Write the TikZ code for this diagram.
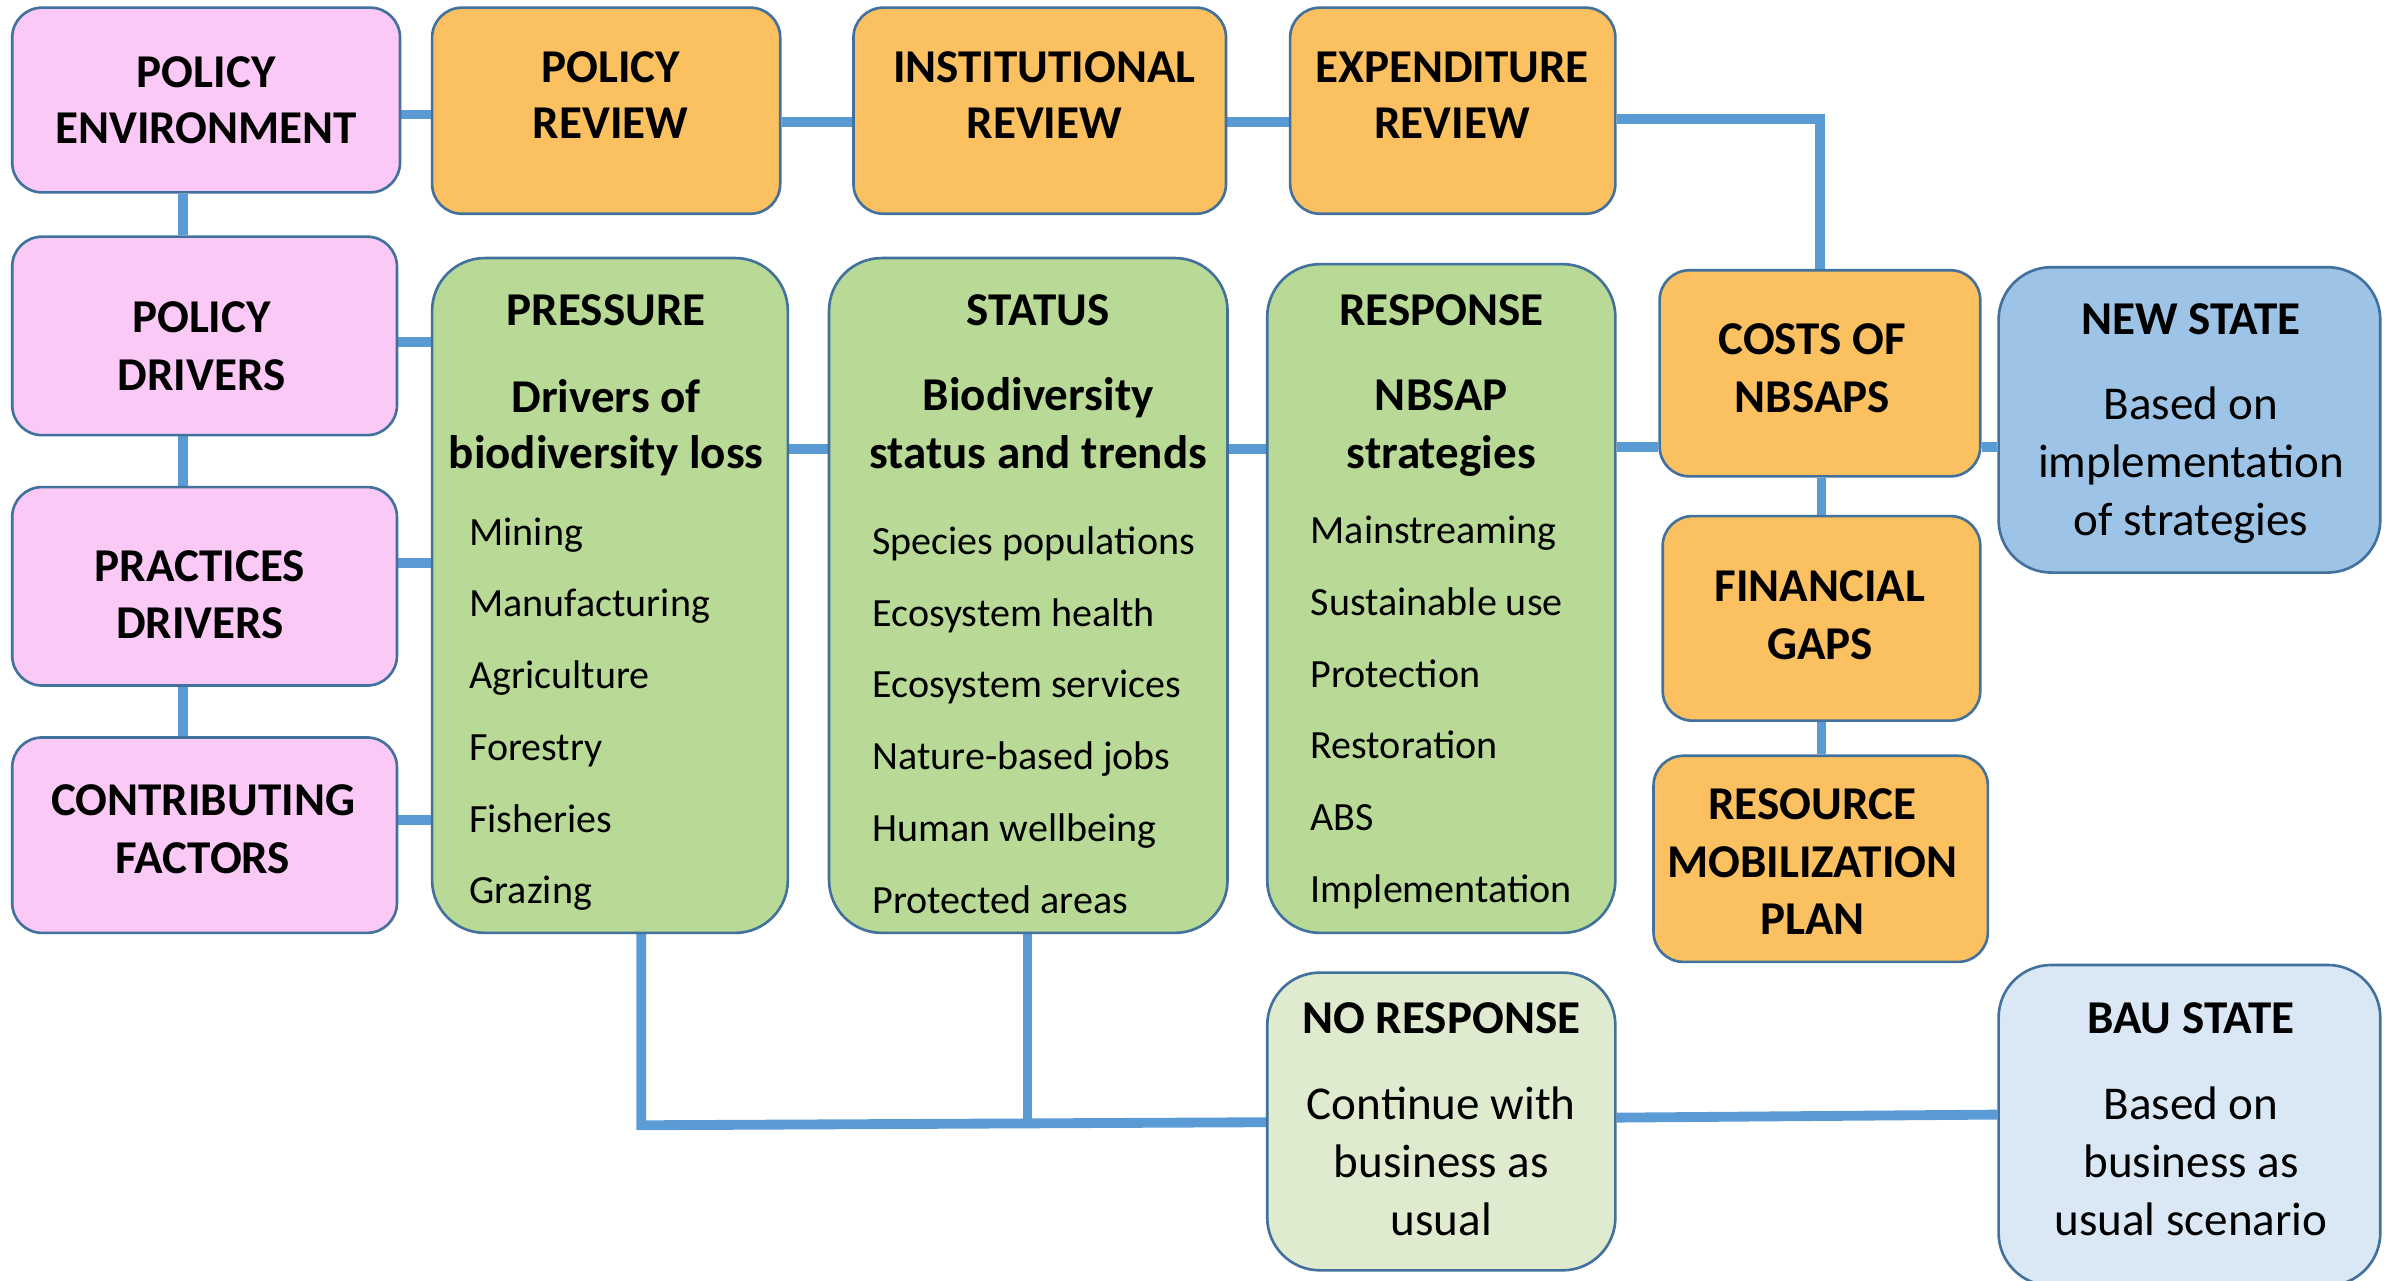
\documentclass[tikz,border=0pt]{standalone}
\usepackage{fontspec}
\setmainfont{Carlito}
\usetikzlibrary{positioning}
\usetikzlibrary{backgrounds}
\newdimen\pxu \pxu=0.01527cm
\definecolor{edgeblue}{HTML}{41719C}
\definecolor{linkblue}{HTML}{5B9BD5}
\definecolor{pinkfill}{HTML}{FBC9F5}
\definecolor{orangefill}{HTML}{FBC060}
\definecolor{greenfill}{HTML}{B8DA96}
\definecolor{bluefill}{HTML}{9DC3E6}
\definecolor{paleblue}{HTML}{DAE8F5}
\definecolor{palegreen}{HTML}{DEEBCF}

\begin{document}
\begin{tikzpicture}[x=0.01527cm, y=-0.01527cm]
    \tikzset{box/.style 2 args={draw=edgeblue, line width=0.75pt, rounded corners=8.5pt,
                inner sep=0pt, minimum width=#1\pxu, minimum height=#2\pxu},
            round/.style={rounded corners=15pt},
            head/.style={anchor=base, inner sep=0pt, font=\fontsize{13.4}{16}\selectfont\bfseries},
            body/.style={anchor=base, inner sep=0pt, font=\fontsize{13.4}{16}\selectfont},
            item/.style={anchor=base west, inner sep=0pt, font=\fontsize{11.4}{14}\selectfont},
            link/.style={draw=linkblue, line width=2.8pt}}
    \useasboundingbox (0,0) rectangle (1568,839);

    % left column
    \node[box={254}{121}, fill=pinkfill] (pe) at (135,65.5) {};
    \node[box={252}{130}, fill=pinkfill] (pd) at (134,220) {};
    \node[box={252}{130}, fill=pinkfill] (pa) at (134,384) {};
    \node[box={252}{128}, fill=pinkfill] (cf) at (134,547) {};
    \node[head] (pe-1) at (135,57) {POLICY};
    \node[head] (pe-2) at (135,94) {ENVIRONMENT};
    \node[head] (pd-1) at (132,218) {POLICY};
    \node[head] (pd-2) at (132,256) {DRIVERS};
    \node[head] (pa-1) at (131,381) {PRACTICES};
    \node[head] (pa-2) at (131,418) {DRIVERS};
    \node[head] (cf-1) at (133,534) {CONTRIBUTING};
    \node[head] (cf-2) at (133,572) {FACTORS};

    % reviews
    \node[box={228}{135}, fill=orangefill] (prv) at (397,72.5) {};
    \node[box={244}{135}, fill=orangefill] (irv) at (681,72.5) {};
    \node[box={213}{135}, fill=orangefill] (erv) at (951.5,72.5) {};
    \node[head] (prv-1) at (400,54) {POLICY};
    \node[head] (prv-2) at (400,91) {REVIEW};
    \node[head] (irv-1) at (684,54) {INSTITUTIONAL};
    \node[head] (irv-2) at (684,91) {REVIEW};
    \node[head] (erv-1) at (951,54) {EXPENDITURE};
    \node[head] (erv-2) at (951,91) {REVIEW};

    % pressure, status, response
    \node[box={233}{442}, round, fill=greenfill] (pres) at (399.5,390) {};
    \node[box={261}{442}, round, fill=greenfill] (stat) at (673.5,390) {};
    \node[box={228}{438}, round, fill=greenfill] (resp) at (944,392) {};
    \node[head] (pres-1) at (397,213) {PRESSURE};
    \node[head] (pres-2) at (397,270) {Drivers of};
    \node[head] (pres-3) at (397,307) {biodiversity loss};
    \node[head] (stat-1) at (680,213) {STATUS};
    \node[head] (stat-2) at (680,269) {Biodiversity};
    \node[head] (stat-3) at (680,307) {status and trends};
    \node[head] (resp-1) at (944,213) {RESPONSE};
    \node[head] (resp-2) at (944,269) {NBSAP};
    \node[head] (resp-3) at (944,307) {strategies};
    \foreach \t [count=\i from 0] in {Mining, Manufacturing, Agriculture, Forestry, Fisheries, Grazing}
        \node[item] (pres-i\i) at (307, 357+47*\i) {\t};
    \foreach \t [count=\i from 0] in {Species populations, Ecosystem health, Ecosystem services,
            Nature-based jobs, Human wellbeing, Protected areas}
        \node[item] (stat-i\i) at (571, 363+47*\i) {\t};
    \foreach \t [count=\i from 0] in {Mainstreaming, Sustainable use, Protection, Restoration, ABS, Implementation}
        \node[item] (resp-i\i) at (858, 356+47*\i) {\t};

    % costs and financing
    \node[box={210}{135}, fill=orangefill] (cost) at (1192,244.5) {};
    \node[box={208}{134}, fill=orangefill] (gap) at (1193,405) {};
    \node[box={219}{135}, fill=orangefill] (rmp) at (1192.5,562.5) {};
    \node[head] (cost-1) at (1187,232) {COSTS OF};
    \node[head] (cost-2) at (1187,270) {NBSAPS};
    \node[head] (gap-1) at (1192,394) {FINANCIAL};
    \node[head] (gap-2) at (1192,432) {GAPS};
    \node[head] (rmp-1) at (1187,537) {RESOURCE};
    \node[head] (rmp-2) at (1187,575) {MOBILIZATION};
    \node[head] (rmp-3) at (1187,612) {PLAN};

    % outcomes
    \node[box={250}{200}, round, fill=bluefill] (new) at (1434,275) {};
    \node[box={228}{195}, round, fill=palegreen] (nor) at (944,734.5) {};
    \node[box={250}{210}, round, fill=paleblue] (bau) at (1434,737) {};
    \node[head] (new-1) at (1435,219) {NEW STATE};
    \node[body] (new-2) at (1435,275) {Based on};
    \node[body] (new-3) at (1435,313) {implementation};
    \node[body] (new-4) at (1435,351) {of strategies};
    \node[head] (nor-1) at (944,677) {NO RESPONSE};
    \node[body] (nor-2) at (944,733) {Continue with};
    \node[body] (nor-3) at (944,771) {business as};
    \node[body] (nor-4) at (944,809) {usual};
    \node[head] (bau-1) at (1435,677) {BAU STATE};
    \node[body] (bau-2) at (1435,733) {Based on};
    \node[body] (bau-3) at (1435,771) {business as};
    \node[body] (bau-4) at (1435,809) {usual scenario};

    % connectors
    \begin{scope}[on background layer]
        \draw[link] (pe.south -| 120,0) -- (pd.north -| 120,0);
        \draw[link] (pd.south -| 120,0) -- (pa.north -| 120,0);
        \draw[link] (pa.south -| 120,0) -- (cf.north -| 120,0);
        \draw[link] (pe.east |- 0,75) -- (prv.west |- 0,75);
        \draw[link] (prv.east |- 0,80) -- (irv.west |- 0,80);
        \draw[link] (irv.east |- 0,80) -- (erv.west |- 0,80);
        \draw[link] (erv.east |- 0,78) -| (cost.north);
        \draw[link] (pd.east |- 0,224) -- (pres.west |- 0,224);
        \draw[link] (pa.east |- 0,369) -- (pres.west |- 0,369);
        \draw[link] (cf.east |- 0,537) -- (pres.west |- 0,537);
        \draw[link] (pres.east |- 0,294) -- (stat.west |- 0,294);
        \draw[link] (stat.east |- 0,294) -- (resp.west |- 0,294);
        \draw[link] (resp.east |- 0,293) -- (cost.west |- 0,293);
        \draw[link] (cost.east |- 0,293) -- (new.west |- 0,293);
        \draw[link] (cost.south -| 1193,0) -- (gap.north -| 1193,0);
        \draw[link] (gap.south -| 1193,0) -- (rmp.north -| 1193,0);
        \draw[link] (pres.south -| 420,0) -- (420,737) -- (nor.west |- 0,735);
        \draw[link] (stat.south -| 673,0) -- (673,736);
        \draw[link] (nor.east |- 0,732) -- (bau.west |- 0,730);
    \end{scope}
\end{tikzpicture}
\end{document}
